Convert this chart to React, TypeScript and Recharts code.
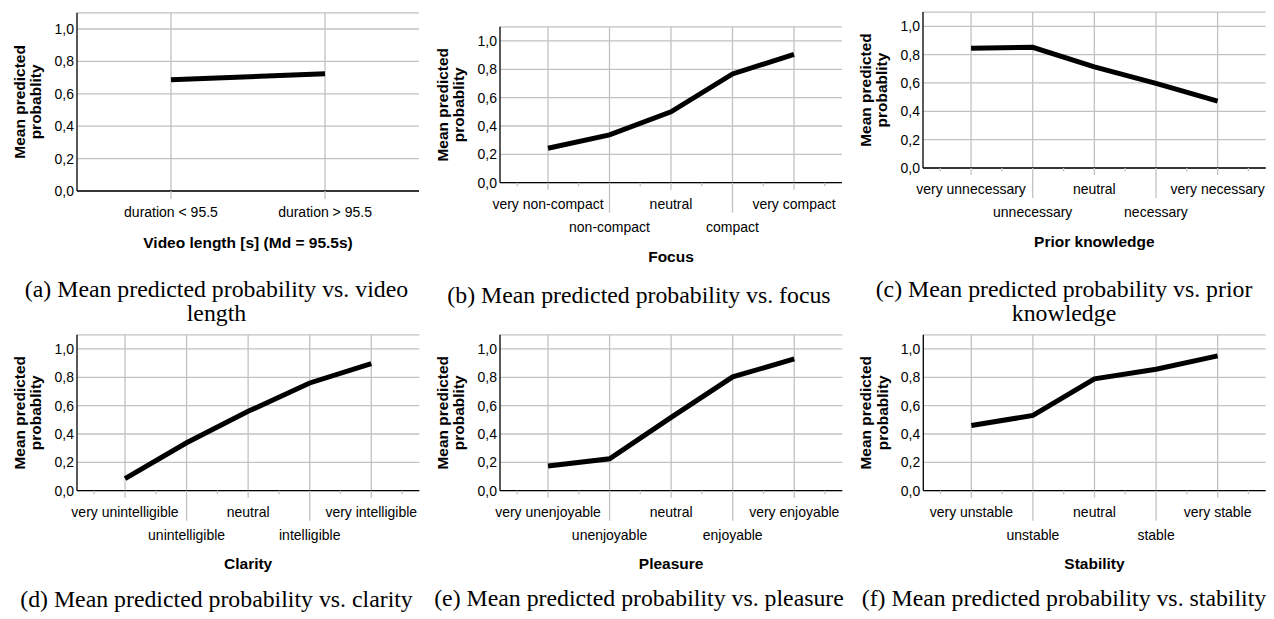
import React from 'react';
import { LineChart, Line, XAxis, YAxis, CartesianGrid, ReferenceLine, Label } from 'recharts';

// ---------- data ----------
const lengthLabels = ['duration < 95.5', 'duration > 95.5'];
const lengthValues = [0.686, 0.724];

const focusLabels = ['very non-compact', 'non-compact', 'neutral', 'compact', 'very compact'];
const focusValues = [0.243, 0.337, 0.5, 0.767, 0.906];

const priorLabels = ['very unnecessary', 'unnecessary', 'neutral', 'necessary', 'very necessary'];
const priorValues = [0.845, 0.852, 0.713, 0.597, 0.472];

const clarityLabels = ['very unintelligible', 'unintelligible', 'neutral', 'intelligible', 'very intelligible'];
const clarityValues = [0.085, 0.338, 0.56, 0.76, 0.897];

const pleasureLabels = ['very unenjoyable', 'unenjoyable', 'neutral', 'enjoyable', 'very enjoyable'];
const pleasureValues = [0.174, 0.225, 0.517, 0.803, 0.93];

const stabilityLabels = ['very unstable', 'unstable', 'neutral', 'stable', 'very stable'];
const stabilityValues = [0.46, 0.531, 0.789, 0.857, 0.951];

const yTicks = [0, 0.2, 0.4, 0.6, 0.8, 1.0];
const yLabelLines = ['Mean predicted', 'probablity'];

// ---------- style ----------
const SANS = '"Liberation Sans", Arial, sans-serif';
const SERIF = '"Liberation Serif", "Times New Roman", serif';
const GRID = '#c2c2c2';

type PanelProps = {
  labels: string[];
  values: number[];
  title: string;
  left: number;
  top: number;
  x0: number;
  x1: number;
  yTop: number;
  yBot: number;
  xDomain: [number, number];
  minor: boolean;
  stagger: boolean;
  titleOffset: number;
};

function Panel(p: PanelProps) {
  const data = p.labels.map((label, i) => ({ x: i + 1, y: p.values[i], label }));
  const cats = p.labels.map((_, i) => i + 1);
  const ticks: number[] = [];
  if (p.minor) {
    for (let i = 0; i <= p.labels.length * 2; i++) ticks.push(0.5 + i * 0.5);
  } else {
    cats.forEach((c) => ticks.push(c));
  }
  const axisH = 90;
  const W = p.x1 - p.left + 6;
  const H = p.yBot - p.top + axisH;
  const yAxisW = p.x0 - p.left;
  const lx0 = p.x0 - p.left;
  const lx1 = p.x1 - p.left;
  const lyTop = p.yTop - p.top;
  const lyBot = p.yBot - p.top;
  const cy = (lyTop + lyBot) / 2;

  const XTick = (props: any) => {
    const { x, y, payload } = props;
    const v = payload.value as number;
    const isCat = Math.abs(v - Math.round(v)) < 1e-6;
    if (!isCat) {
      return <line x1={x} x2={x} y1={y} y2={y + 3.5} stroke={GRID} strokeWidth={1.3} />;
    }
    const idx = Math.round(v) - 1;
    const second = p.stagger && idx % 2 === 1;
    const ext = p.stagger ? (second ? 30 : 7) : 8;
    return (
      <g>
        <line x1={x} x2={x} y1={y} y2={y + ext} stroke={GRID} strokeWidth={1.3} />
        <text x={x} y={y + (second ? 49 : 26)} textAnchor="middle" fontFamily={SANS} fontSize={14} fill="#000">
          {p.labels[idx]}
        </text>
      </g>
    );
  };

  const YTick = (props: any) => {
    const { x, y, payload } = props;
    return (
      <text x={x} y={y + 5} textAnchor="end" fontFamily={SANS} fontSize={14} fill="#000">
        {(payload.value as number).toFixed(1).replace('.', ',')}
      </text>
    );
  };

  const renderYLabel = () => (
    <g>
      <text
        x={lx0 - 52}
        y={cy}
        transform={`rotate(-90, ${lx0 - 52}, ${cy})`}
        textAnchor="middle"
        fontFamily={SANS}
        fontSize={15.5}
        fontWeight="bold"
        fill="#000"
      >
        {yLabelLines[0]}
      </text>
      <text
        x={lx0 - 35.5}
        y={cy}
        transform={`rotate(-90, ${lx0 - 35.5}, ${cy})`}
        textAnchor="middle"
        fontFamily={SANS}
        fontSize={15.5}
        fontWeight="bold"
        fill="#000"
      >
        {yLabelLines[1]}
      </text>
    </g>
  );

  const renderXTitle = () => (
    <text
      x={(lx0 + lx1) / 2}
      y={lyBot + p.titleOffset}
      textAnchor="middle"
      fontFamily={SANS}
      fontSize={15.5}
      fontWeight="bold"
      fill="#000"
    >
      {p.title}
    </text>
  );

  return (
    <div style={{ position: 'absolute', left: p.left, top: p.top, width: W, height: H }}>
      <LineChart
        width={W}
        height={H}
        data={data}
        margin={{ top: lyTop, right: 6, bottom: 0, left: 0 }}
      >
        <CartesianGrid horizontal vertical={false} stroke={GRID} strokeWidth={1.3} />
        {cats.map((c) => (
          <ReferenceLine key={c} x={c} stroke={GRID} strokeWidth={1.3} />
        ))}
        <XAxis
          dataKey="x"
          type="number"
          domain={p.xDomain}
          ticks={ticks}
          interval={0}
          height={axisH}
          tickSize={0}
          tickMargin={0}
          tickLine={false}
          axisLine={{ stroke: '#000', strokeWidth: 1.3 }}
          tick={<XTick />}
        >
          <Label content={renderXTitle} />
        </XAxis>
        <YAxis
          type="number"
          domain={[0, 1.1]}
          ticks={yTicks}
          interval={0}
          width={yAxisW}
          tickSize={0}
          tickMargin={3}
          tickLine={false}
          axisLine={{ stroke: '#000', strokeWidth: 1.3 }}
          tick={<YTick />}
        >
          <Label content={renderYLabel} />
        </YAxis>
        <Line
          type="linear"
          dataKey="y"
          stroke="#000"
          strokeWidth={5}
          dot={false}
          activeDot={false}
          isAnimationActive={false}
        />
      </LineChart>
    </div>
  );
}

function Caption({ cx, baseline, lines }: { cx: number; baseline: number; lines: string[] }) {
  return (
    <div
      style={{
        position: 'absolute',
        left: cx - 225,
        width: 450,
        top: baseline - 20.3,
        fontFamily: SERIF,
        fontSize: 23.8,
        lineHeight: '24.5px',
        textAlign: 'center',
        color: '#000',
        whiteSpace: 'nowrap',
      }}
    >
      {lines.map((l, i) => (
        <div key={i}>{l}</div>
      ))}
    </div>
  );
}

export default function App() {
  return (
    <div style={{ position: 'absolute', left: 0, top: 0, width: 1274, height: 619, background: '#fff', overflow: 'hidden' }}>
      <Panel labels={lengthLabels} values={lengthValues} title="Video length [s] (Md = 95.5s)"
        left={0} top={0} x0={77} x1={419} yTop={12.8} yBot={191} xDomain={[0.39, 2.61]}
        minor={false} stagger={false} titleOffset={57.3} />
      <Panel labels={focusLabels} values={focusValues} title="Focus"
        left={423} top={0} x0={500} x1={842} yTop={26.8} yBot={182.7} xDomain={[0.22, 5.78]}
        minor stagger titleOffset={79.5} />
      <Panel labels={priorLabels} values={priorValues} title="Prior knowledge"
        left={846} top={0} x0={923} x1={1265.7} yTop={12.1} yBot={168} xDomain={[0.22, 5.78]}
        minor stagger titleOffset={79.5} />
      <Panel labels={clarityLabels} values={clarityValues} title="Clarity"
        left={0} top={310} x0={77} x1={419.3} yTop={334.8} yBot={490.7} xDomain={[0.22, 5.78]}
        minor stagger titleOffset={78.5} />
      <Panel labels={pleasureLabels} values={pleasureValues} title="Pleasure"
        left={423} top={310} x0={500} x1={842.3} yTop={334.8} yBot={490.7} xDomain={[0.22, 5.78]}
        minor stagger titleOffset={78.5} />
      <Panel labels={stabilityLabels} values={stabilityValues} title="Stability"
        left={846} top={310} x0={923.3} x1={1265.7} yTop={334.8} yBot={490.7} xDomain={[0.22, 5.78]}
        minor stagger titleOffset={78.5} />

      <Caption cx={216.5} baseline={297} lines={['(a) Mean predicted probability vs. video', 'length']} />
      <Caption cx={639} baseline={303.3} lines={['(b) Mean predicted probability vs. focus']} />
      <Caption cx={1064} baseline={297} lines={['(c) Mean predicted probability vs. prior', 'knowledge']} />
      <Caption cx={216.5} baseline={607.5} lines={['(d) Mean predicted probability vs. clarity']} />
      <Caption cx={639} baseline={606.7} lines={['(e) Mean predicted probability vs. pleasure']} />
      <Caption cx={1064} baseline={606.7} lines={['(f) Mean predicted probability vs. stability']} />
    </div>
  );
}
